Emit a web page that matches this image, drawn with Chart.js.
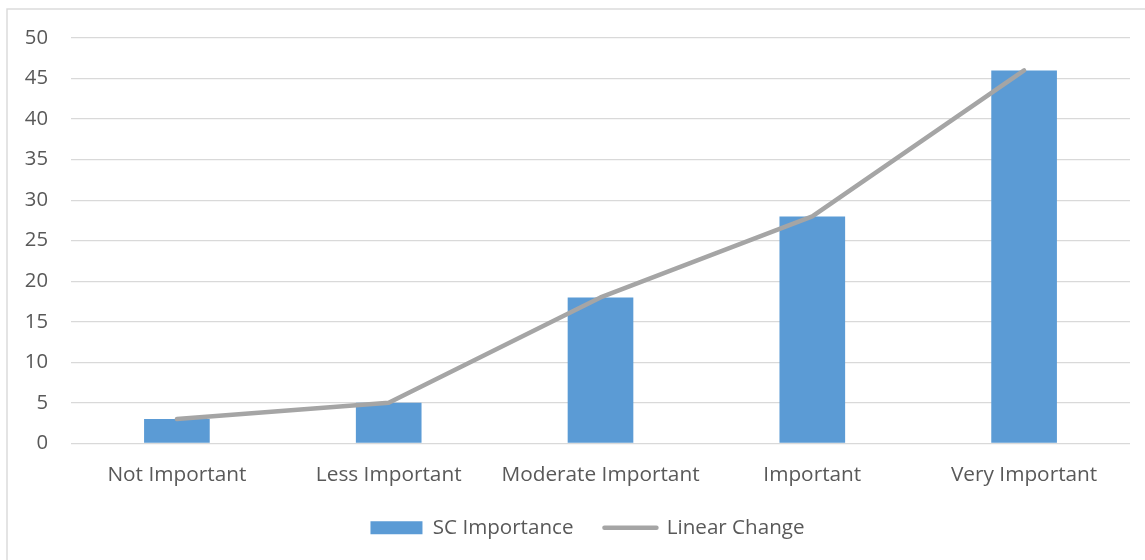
<!DOCTYPE html>
<html>
<head>
<meta charset="utf-8">
<script src="https://cdn.jsdelivr.net/npm/chart.js@4.4.1/dist/chart.umd.min.js"></script>
<style>
  html, body { margin: 0; padding: 0; background: #ffffff; }
  #wrap { position: relative; width: 1145px; height: 560px; }
</style>
</head>
<body>
<div id="wrap"><canvas id="c" width="1145" height="560"></canvas></div>
<script>
const categories = ["Not Important", "Less Important", "Moderate Important", "Important", "Very Important"];
const scImportance = [3, 5, 18, 28, 46];
const linearChange = [3, 5, 18, 28, 46];
const yTicks = [0, 5, 10, 15, 20, 25, 30, 35, 40, 45, 50];

const FONT = "'Open Sans', 'DejaVu Sans', sans-serif";
const TEXT = "#595959";

const borderPlugin = {
  id: 'outerBorder',
  afterLayout(chart) {
    // let the y tick labels draw outside the narrow axis box
    if (chart.scales.y) chart.scales.y._computeLabelArea = function () { return undefined; };
  },
  beforeDraw(chart) {
    const ctx = chart.ctx;
    ctx.save();
    ctx.fillStyle = '#ffffff';
    ctx.fillRect(0, 0, chart.width, chart.height);
    ctx.strokeStyle = '#d9d9d9';
    ctx.lineWidth = 1.4;
    ctx.strokeRect(7, 9, chart.width + 20, chart.height + 20);
    ctx.restore();
  }
};

new Chart(document.getElementById('c'), {
  data: {
    labels: categories,
    datasets: [
      {
        type: 'bar',
        label: 'SC Importance',
        data: scImportance,
        backgroundColor: '#5B9BD5',
        borderWidth: 0,
        categoryPercentage: 1,
        barPercentage: 0.31,
        order: 1
      },
      {
        type: 'line',
        label: 'Linear Change',
        data: linearChange,
        borderColor: '#A5A5A5',
        backgroundColor: '#A5A5A5',
        borderWidth: 4.5,
        borderCapStyle: 'round',
        borderJoinStyle: 'round',
        pointRadius: 0,
        pointHoverRadius: 0,
        tension: 0,
        fill: false,
        order: 0
      }
    ]
  },
  options: {
    responsive: false,
    animation: false,
    devicePixelRatio: 1,
    layout: { padding: { top: 38, left: 45, right: 15, bottom: 12 } },
    scales: {
      x: {
        offset: true,
        grid: { display: false, drawTicks: false },
        border: { display: false },
        ticks: { color: TEXT, font: { family: FONT, size: 20.8 }, padding: 19, maxRotation: 0, autoSkip: false },
        afterFit(scale) { scale.height = 43; }
      },
      y: {
        min: 0,
        max: 50,
        afterBuildTicks(scale) { scale.ticks = yTicks.map(v => ({ value: v })); },
        grid: { color: '#d9d9d9', lineWidth: 1.3, drawTicks: false },
        border: { display: false },
        ticks: { color: TEXT, font: { family: FONT, size: 20.3 }, padding: 23 },
        afterFit(scale) { scale.width = 26; }
      }
    },
    plugins: {
      tooltip: { enabled: false },
      legend: {
        position: 'bottom',
        labels: {
          color: TEXT,
          font: { family: FONT, size: 20.6 },
          usePointStyle: true,
          pointStyleWidth: 52,
          boxHeight: 13,
          padding: 31,
          sort: (a, b) => a.datasetIndex - b.datasetIndex,
          generateLabels(chart) {
            const items = Chart.defaults.plugins.legend.labels.generateLabels(chart);
            items.forEach(it => {
              if (it.datasetIndex === 0) {
                it.pointStyle = 'rect';
                it.lineWidth = 0;
                it.fillStyle = '#5B9BD5';
              } else {
                it.pointStyle = 'line';
                it.lineWidth = 4.5;
                it.strokeStyle = '#A5A5A5';
                it.lineCap = 'round';
              }
            });
            return items;
          }
        }
      }
    }
  },
  plugins: [borderPlugin]
});
</script>
</body>
</html>
